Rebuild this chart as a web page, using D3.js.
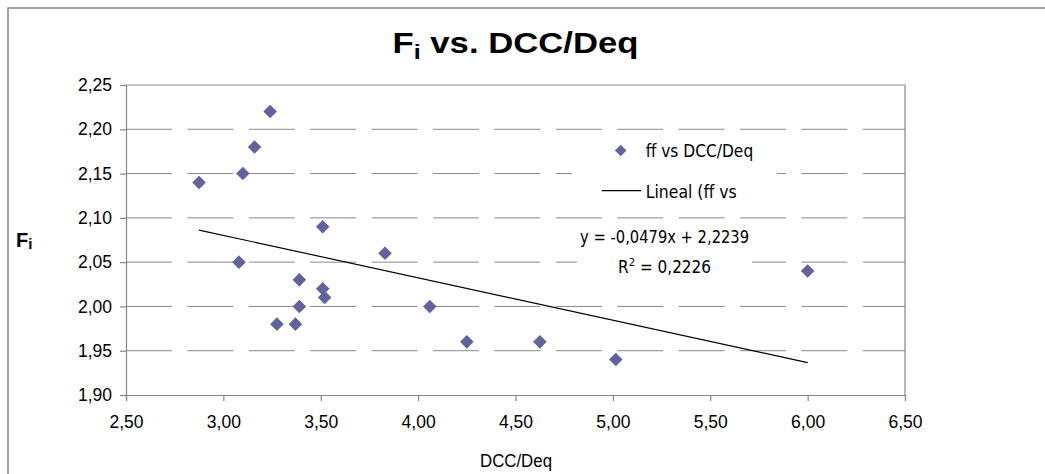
<!DOCTYPE html>
<html>
<head>
<meta charset="utf-8">
<script src="https://cdn.jsdelivr.net/npm/d3@7"></script>
<style>
  html, body { margin: 0; padding: 0; background: #fff; }
  svg { display: block; }
</style>
</head>
<body>
<svg id="chart" width="1045" height="474"></svg>
<script>
// ---- data ----
const dccDeq = [2.875, 3.10, 3.16, 3.24, 3.08, 3.51, 3.39, 3.51, 3.52, 3.39, 3.275, 3.37, 3.83, 4.06, 4.25, 4.625, 5.015, 6.00];
const ff     = [2.14, 2.15, 2.18, 2.22, 2.05, 2.09, 2.03, 2.02, 2.01, 2.00, 1.98, 1.98, 2.06, 2.00, 1.96, 1.96, 1.94, 2.04];
const trendCoef = [-0.0479, 2.2239];   // slope, intercept
const rSquared = 0.2226;
const xTicks = [2.5, 3.0, 3.5, 4.0, 4.5, 5.0, 5.5, 6.0, 6.5];
const yTicks = [1.90, 1.95, 2.00, 2.05, 2.10, 2.15, 2.20, 2.25];
const seriesName = "ff vs DCC/Deq";
const trendName = "Lineal (ff vs";

const fmt = v => d3.format(".2f")(v).replace(".", ",");
const svg = d3.select("#chart");
const L = 126, R = 905, T = 85, B = 395;
const x = d3.scaleLinear().domain([2.5, 6.5]).range([L, R]);
const y = d3.scaleLinear().domain([1.90, 2.25]).range([B, T]);
const axisFont = "'Liberation Sans', Arial, sans-serif";
const legFont = "'DejaVu Sans Condensed', 'Liberation Sans', sans-serif";
const markerColor = "#62629c";

// outer chart border (only top/left visible)
svg.append("rect").attr("x", 8).attr("y", 8).attr("width", 1100).attr("height", 600)
  .attr("fill", "none").attr("stroke", "#8e8e8e").attr("stroke-width", 1.6);

// gridlines (dashed)
svg.append("g").selectAll("line").data(yTicks.filter(v => v > 1.9 && v < 2.25)).join("line")
  .attr("x1", L).attr("x2", R).attr("y1", d => y(d)).attr("y2", d => y(d))
  .attr("stroke", "#8a8a8a").attr("stroke-width", 1).attr("stroke-dasharray", "46,15.4");

// plot frame top & right
svg.append("path").attr("d", `M${L},${T}H${R}V${B}`).attr("fill", "none").attr("stroke", "#868686").attr("stroke-width", 1.2);

// axes
const xAxis = svg.append("g").attr("transform", `translate(0,${B})`)
  .call(d3.axisBottom(x).tickValues(xTicks).tickFormat(fmt).tickSize(6).tickPadding(15));
const yAxis = svg.append("g").attr("transform", `translate(${L},0)`)
  .call(d3.axisLeft(y).tickValues(yTicks).tickFormat(fmt).tickSize(6).tickPadding(8));
[xAxis, yAxis].forEach(g => {
  g.select(".domain").attr("stroke", "#868686").attr("stroke-width", 1.2);
  g.selectAll(".tick line").attr("stroke", "#868686").attr("stroke-width", 1.2);
  g.selectAll("text").attr("font-family", axisFont).attr("font-size", "17.5px").attr("fill", "#000");
});

// trendline
const xmin = d3.min(dccDeq), xmax = d3.max(dccDeq);
svg.append("line")
  .attr("x1", x(xmin)).attr("y1", y(trendCoef[0] * xmin + trendCoef[1]))
  .attr("x2", x(xmax)).attr("y2", y(trendCoef[0] * xmax + trendCoef[1]))
  .attr("stroke", "#000").attr("stroke-width", 1.2);

// markers
const diamond = s => `M0,${-s}L${s},0L0,${s}L${-s},0Z`;
svg.append("g").selectAll("path").data(dccDeq.map((d, i) => [d, ff[i]])).join("path")
  .attr("transform", d => `translate(${x(d[0])},${y(d[1])})`)
  .attr("d", diamond(6.8)).attr("fill", markerColor);

// legend
const lg = svg.append("g");
lg.append("rect").attr("x", 572).attr("y", 136).attr("width", 205).attr("height", 68).attr("fill", "#fff");
lg.append("path").attr("transform", "translate(620.7,150.5)").attr("d", diamond(5.8)).attr("fill", markerColor);
lg.append("text").attr("x", 645.7).attr("y", 157).attr("font-family", legFont).attr("font-size", "17px")
  .attr("textLength", 107.5).attr("lengthAdjust", "spacingAndGlyphs").text(seriesName);
lg.append("line").attr("x1", 601.7).attr("x2", 641).attr("y1", 190.7).attr("y2", 190.7).attr("stroke", "#000").attr("stroke-width", 1.2);
lg.append("text").attr("x", 645.7).attr("y", 197.5).attr("font-family", legFont).attr("font-size", "17px")
  .attr("textLength", 91).attr("lengthAdjust", "spacingAndGlyphs").text(trendName);

// equation label
const eq = svg.append("g");
eq.append("rect").attr("x", 577).attr("y", 226).attr("width", 175).attr("height", 54).attr("fill", "#fff");
const sgn = trendCoef[1] >= 0 ? "+" : "-";
eq.append("text").attr("x", 664.6).attr("y", 243.3).attr("text-anchor", "middle")
  .attr("font-family", legFont).attr("font-size", "17px")
  .attr("textLength", 169).attr("lengthAdjust", "spacingAndGlyphs")
  .text(`y = ${String(trendCoef[0]).replace(".", ",")}x ${sgn} ${String(Math.abs(trendCoef[1])).replace(".", ",")}`);
const r2 = eq.append("text").attr("x", 664.6).attr("y", 272.5).attr("text-anchor", "middle")
  .attr("font-family", legFont).attr("font-size", "17px");
r2.append("tspan").text("R");
r2.append("tspan").attr("dy", -7).attr("font-size", "11px").text("2");
r2.append("tspan").attr("dy", 7).text(" = " + String(rSquared).replace(".", ","));

// title
const title = svg.append("text").attr("x", 515.5).attr("y", 53.3).attr("text-anchor", "middle")
  .attr("font-family", axisFont).attr("font-weight", "bold").attr("font-size", "29px")
  .attr("textLength", 246).attr("lengthAdjust", "spacingAndGlyphs");
title.append("tspan").text("F");
title.append("tspan").attr("dy", 6).attr("font-size", "21px").text("i");
title.append("tspan").attr("dy", -6).text(" vs. DCC/Deq");

// y axis title
const yt = svg.append("text").attr("x", 16).attr("y", 246.7)
  .attr("font-family", axisFont).attr("font-weight", "bold").attr("font-size", "20px");
yt.append("tspan").text("F");
yt.append("tspan").attr("dy", 2.7).attr("font-size", "15px").text("i");

// x axis title
svg.append("text").attr("x", 516).attr("y", 466.7).attr("text-anchor", "middle")
  .attr("font-family", axisFont).attr("font-size", "17.5px")
  .attr("textLength", 72).attr("lengthAdjust", "spacingAndGlyphs").text("DCC/Deq");
</script>
</body>
</html>
